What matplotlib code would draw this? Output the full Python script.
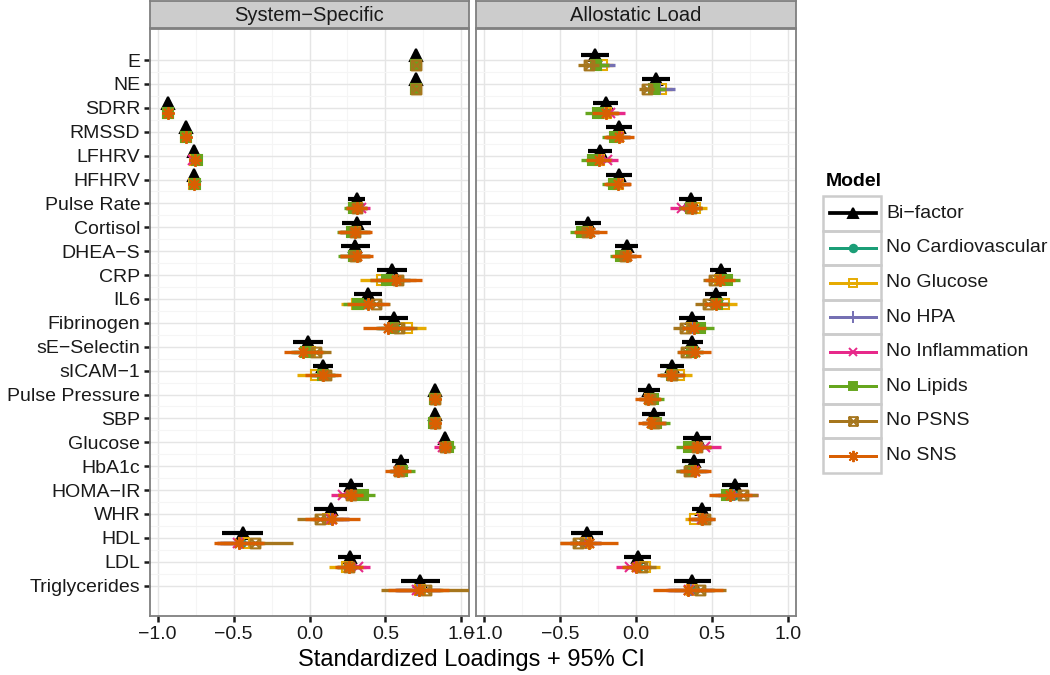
import numpy as np
import matplotlib
matplotlib.use("Agg")
import matplotlib.pyplot as plt
from matplotlib.path import Path
from matplotlib.patches import Rectangle

plt.rcParams['font.family'] = ['Liberation Sans', 'DejaVu Sans']

nan = np.nan
M = '\u2212'

variables = ['E', 'NE', 'SDRR', 'RMSSD', 'LFHRV', 'HFHRV', 'Pulse Rate', 'Cortisol',
             'DHEA' + M + 'S', 'CRP', 'IL6', 'Fibrinogen', 'sE' + M + 'Selectin',
             'sICAM' + M + '1', 'Pulse Pressure', 'SBP', 'Glucose', 'HbA1c',
             'HOMA' + M + 'IR', 'WHR', 'HDL', 'LDL', 'Triglycerides']
models = ['Bi' + M + 'factor', 'No Cardiovascular', 'No Glucose', 'No HPA',
          'No Inflammation', 'No Lipids', 'No PSNS', 'No SNS']
facets = ['System' + M + 'Specific', 'Allostatic Load']
x_ticks = [-1.0, -0.5, 0.0, 0.5, 1.0]
x_tick_labels = [M + '1.0', M + '0.5', '0.0', '0.5', '1.0']

# ---- System-Specific loadings (estimate, CI half-width) ----
ss_bifactor = [0.70, 0.70, -0.93, -0.81, -0.76, -0.76, 0.31, 0.31, 0.30, 0.545, 0.385, 0.555, -0.01, 0.09, 0.826, 0.826, 0.895, 0.60, 0.275, 0.14, -0.44, 0.265, 0.73]
ss_bifactor_hw = [0.015, 0.015, 0.015, 0.015, 0.015, 0.015, 0.055, 0.095, 0.095, 0.10, 0.093, 0.095, 0.10, 0.065, 0.015, 0.015, 0.02, 0.055, 0.08, 0.11, 0.135, 0.075, 0.13]
ss_cardio = [0.70, 0.70, -0.93, -0.81, -0.755, -0.76, nan, 0.30, 0.30, 0.55, 0.38, 0.56, -0.01, 0.09, nan, nan, 0.89, 0.59, 0.27, 0.14, -0.45, 0.26, 0.72]
ss_cardio_hw = [0.02, 0.02, 0.015, 0.015, 0.02, 0.02, nan, 0.10, 0.10, 0.11, 0.10, 0.11, 0.10, 0.08, nan, nan, 0.03, 0.06, 0.08, 0.12, 0.14, 0.08, 0.15]
ss_glucose = [0.70, 0.70, -0.93, -0.81, -0.755, -0.76, 0.31, 0.30, 0.30, 0.48, 0.31, 0.64, 0.0, 0.04, 0.826, 0.826, nan, nan, nan, 0.12, -0.43, 0.25, 0.73]
ss_glucose_hw = [0.02, 0.02, 0.015, 0.015, 0.02, 0.02, 0.07, 0.10, 0.10, 0.15, 0.10, 0.125, 0.10, 0.12, 0.02, 0.02, nan, nan, nan, 0.12, 0.14, 0.12, 0.15]
ss_hpa = [0.70, 0.70, -0.93, -0.81, -0.755, -0.76, 0.31, nan, nan, 0.55, 0.39, 0.55, -0.02, 0.09, 0.826, 0.826, 0.89, 0.59, 0.27, 0.14, -0.45, 0.26, 0.71]
ss_hpa_hw = [0.02, 0.02, 0.015, 0.015, 0.02, 0.02, 0.07, nan, nan, 0.11, 0.10, 0.11, 0.10, 0.08, 0.02, 0.02, 0.03, 0.06, 0.08, 0.12, 0.14, 0.08, 0.15]
ss_inflam = [0.70, 0.70, -0.93, -0.81, -0.77, -0.76, 0.34, 0.30, 0.30, nan, nan, nan, nan, nan, 0.826, 0.826, 0.88, 0.59, 0.22, 0.14, -0.47, 0.32, 0.71]
ss_inflam_hw = [0.02, 0.02, 0.015, 0.015, 0.025, 0.02, 0.06, 0.10, 0.10, nan, nan, nan, nan, nan, 0.02, 0.02, 0.06, 0.06, 0.08, 0.12, 0.14, 0.08, 0.15]
ss_lipids = [0.70, 0.70, -0.93, -0.81, -0.74, -0.755, 0.29, 0.28, 0.29, 0.51, 0.32, 0.55, -0.02, 0.09, 0.826, 0.82, 0.91, 0.61, 0.35, nan, nan, nan, nan]
ss_lipids_hw = [0.02, 0.02, 0.015, 0.015, 0.025, 0.02, 0.06, 0.10, 0.10, 0.11, 0.10, 0.11, 0.10, 0.08, 0.02, 0.02, 0.05, 0.085, 0.08, nan, nan, nan, nan]
ss_psns = [0.70, 0.70, nan, nan, nan, nan, 0.31, 0.30, 0.30, 0.58, 0.44, 0.59, 0.04, 0.11, 0.826, 0.826, 0.89, 0.59, 0.27, 0.07, -0.36, 0.26, 0.77]
ss_psns_hw = [0.02, 0.02, nan, nan, nan, nan, 0.07, 0.10, 0.10, 0.12, 0.09, 0.12, 0.10, 0.08, 0.02, 0.02, 0.03, 0.06, 0.08, 0.15, 0.25, 0.08, 0.30]
ss_sns = [nan, nan, -0.93, -0.81, -0.755, -0.76, 0.31, 0.30, 0.31, 0.57, 0.385, 0.52, -0.04, 0.09, 0.826, 0.826, 0.895, 0.58, 0.27, 0.15, -0.465, 0.26, 0.72]
ss_sns_hw = [nan, nan, 0.015, 0.015, 0.02, 0.02, 0.07, 0.11, 0.11, 0.17, 0.14, 0.165, 0.13, 0.12, 0.02, 0.02, 0.03, 0.085, 0.08, 0.18, 0.165, 0.09, 0.20]

# ---- Allostatic Load loadings (estimate, CI half-width) ----
al_bifactor = [-0.27, 0.13, -0.20, -0.11, -0.235, -0.11, 0.36, -0.315, -0.06, 0.555, 0.525, 0.37, 0.37, 0.235, 0.085, 0.115, 0.40, 0.38, 0.65, 0.43, -0.32, 0.01, 0.37]
al_bifactor_hw = [0.09, 0.09, 0.085, 0.085, 0.08, 0.085, 0.075, 0.085, 0.075, 0.07, 0.075, 0.085, 0.07, 0.08, 0.07, 0.075, 0.09, 0.075, 0.085, 0.06, 0.105, 0.09, 0.12]
al_cardio = [-0.26, 0.12, -0.20, -0.12, -0.24, -0.12, nan, -0.32, -0.07, 0.55, 0.53, 0.375, 0.37, 0.235, nan, nan, 0.40, 0.37, 0.64, 0.43, -0.33, 0.01, 0.36]
al_cardio_hw = [0.08, 0.08, 0.085, 0.08, 0.08, 0.08, nan, 0.08, 0.07, 0.08, 0.08, 0.08, 0.07, 0.08, nan, nan, 0.09, 0.09, 0.10, 0.07, 0.10, 0.09, 0.15]
al_glucose = [-0.22, 0.165, -0.20, -0.12, -0.24, -0.12, 0.39, -0.32, -0.07, 0.55, 0.58, 0.37, 0.37, 0.28, 0.09, 0.12, nan, nan, nan, 0.39, -0.33, 0.06, 0.37]
al_glucose_hw = [0.07, 0.07, 0.085, 0.08, 0.08, 0.08, 0.075, 0.08, 0.07, 0.08, 0.085, 0.08, 0.07, 0.085, 0.07, 0.08, nan, nan, nan, 0.07, 0.10, 0.10, 0.15]
al_hpa = [-0.24, 0.16, -0.20, -0.12, -0.24, -0.12, 0.36, nan, nan, 0.55, 0.53, 0.375, 0.37, 0.235, 0.09, 0.12, 0.40, 0.38, 0.64, 0.43, -0.33, 0.01, 0.36]
al_hpa_hw = [0.10, 0.095, 0.085, 0.08, 0.08, 0.08, 0.075, nan, nan, 0.08, 0.08, 0.08, 0.07, 0.08, 0.07, 0.08, 0.09, 0.09, 0.10, 0.07, 0.10, 0.09, 0.15]
al_inflam = [-0.26, 0.12, -0.17, -0.12, -0.19, -0.12, 0.30, -0.32, -0.07, nan, nan, nan, nan, nan, 0.09, 0.12, 0.45, 0.38, 0.66, 0.43, -0.33, -0.04, 0.35]
al_inflam_hw = [0.08, 0.08, 0.10, 0.08, 0.07, 0.08, 0.08, 0.08, 0.07, nan, nan, nan, nan, nan, 0.07, 0.08, 0.11, 0.09, 0.14, 0.07, 0.10, 0.09, 0.15]
al_lipids = [-0.26, 0.12, -0.25, -0.14, -0.28, -0.145, 0.36, -0.355, -0.10, 0.60, 0.53, 0.42, 0.37, 0.235, 0.11, 0.13, 0.35, 0.36, 0.60, nan, nan, nan, nan]
al_lipids_hw = [0.08, 0.08, 0.085, 0.08, 0.08, 0.075, 0.075, 0.08, 0.07, 0.08, 0.08, 0.09, 0.07, 0.08, 0.075, 0.09, 0.09, 0.10, 0.10, nan, nan, nan, nan]
al_psns = [-0.31, 0.07, nan, nan, nan, nan, 0.36, -0.32, -0.07, 0.51, 0.47, 0.32, 0.33, 0.235, 0.09, 0.12, 0.40, 0.35, 0.70, 0.45, -0.38, 0.04, 0.42]
al_psns_hw = [0.07, 0.05, nan, nan, nan, nan, 0.075, 0.08, 0.07, 0.07, 0.08, 0.08, 0.06, 0.08, 0.07, 0.08, 0.09, 0.09, 0.10, 0.07, 0.12, 0.09, 0.17]
al_sns = [nan, nan, -0.20, -0.11, -0.245, -0.12, 0.365, -0.30, -0.06, 0.55, 0.525, 0.38, 0.385, 0.23, 0.08, 0.10, 0.40, 0.39, 0.62, 0.43, -0.31, 0.0, 0.34]
al_sns_hw = [nan, nan, 0.09, 0.10, 0.08, 0.09, 0.07, 0.11, 0.095, 0.10, 0.08, 0.08, 0.11, 0.09, 0.085, 0.09, 0.09, 0.10, 0.14, 0.09, 0.19, 0.09, 0.23]

ss_est = [ss_bifactor, ss_cardio, ss_glucose, ss_hpa, ss_inflam, ss_lipids, ss_psns, ss_sns]
ss_hw = [ss_bifactor_hw, ss_cardio_hw, ss_glucose_hw, ss_hpa_hw, ss_inflam_hw, ss_lipids_hw, ss_psns_hw, ss_sns_hw]
al_est = [al_bifactor, al_cardio, al_glucose, al_hpa, al_inflam, al_lipids, al_psns, al_sns]
al_hw = [al_bifactor_hw, al_cardio_hw, al_glucose_hw, al_hpa_hw, al_inflam_hw, al_lipids_hw, al_psns_hw, al_sns_hw]

colors = ['black', '#1B9E77', '#E6AB02', '#7570B3', '#E7298A', '#66A61E', '#A6761D', '#D95F02']

# square with a cross inside (ggplot shape 7)
sq_cross = Path([(-1, -1), (1, -1), (1, 1), (-1, 1), (-1, -1), (-1, -1), (1, 1), (-1, 1), (1, -1)],
                [Path.MOVETO, Path.LINETO, Path.LINETO, Path.LINETO, Path.CLOSEPOLY,
                 Path.MOVETO, Path.LINETO, Path.MOVETO, Path.LINETO])
markers = ['^', 'o', 's', '+', 'x', 's', sq_cross, (8, 2, 0)]
msizes = [8.5, 6, 6.5, 9, 7, 6.5, 7, 9]
filled = [True, True, False, True, True, True, False, True]
lws = [3.0, 2.4, 2.4, 2.4, 2.4, 2.4, 2.4, 2.4]
offsets = [-0.2, 0.2, 0.2, 0.2, 0.2, 0.2, 0.2, 0.2]

fig = plt.figure(figsize=(10.5, 6.75), dpi=100)
W, H = 1050.0, 675.0
panels = [(150, 469), (476, 796)]
top, bottom = 29, 616
rows = np.arange(len(variables))

for p, (est_list, hw_list) in enumerate([(ss_est, ss_hw), (al_est, al_hw)]):
    x0, x1 = panels[p]
    ax = fig.add_axes([x0 / W, 1 - bottom / H, (x1 - x0) / W, (bottom - top) / H])
    ax.set_xlim(-1.05, 1.05)
    ax.set_ylim(len(variables) - 1 + 1.27, -1.3)
    ax.set_xticks(x_ticks)
    ax.set_xticklabels(x_tick_labels)
    ax.set_xticks([-0.75, -0.25, 0.25, 0.75], minor=True)
    ax.set_yticks(rows)
    ax.set_yticks(rows[:-1] + 0.5, minor=True)
    ax.grid(True, which='major', color='#E5E5E5', lw=1.0)
    ax.grid(True, which='minor', color='#F5F5F5', lw=0.8)
    ax.set_axisbelow(True)
    ax.tick_params(which='minor', length=0)
    ax.tick_params(which='major', length=4, width=1.8, color='#1a1a1a',
                   labelsize=14, labelcolor='#1a1a1a', pad=3)
    if p == 0:
        ax.set_yticklabels(variables)
    else:
        ax.set_yticklabels([])
        ax.tick_params(axis='y', which='both', length=0)
    for s in ax.spines.values():
        s.set_color('#7F7F7F')
        s.set_linewidth(1.3)

    for m in range(len(models)):
        est = np.array(est_list[m], dtype=float)
        hw = np.array(hw_list[m], dtype=float)
        y = rows + offsets[m]
        ax.errorbar(est, y, xerr=hw, fmt='none', ecolor=colors[m], elinewidth=lws[m],
                    capsize=0, zorder=3 + m * 0.1)
        ax.plot(est, y, ls='none', marker=markers[m], ms=msizes[m],
                mfc=colors[m] if filled[m] else 'none', mec=colors[m], mew=1.5,
                zorder=3.05 + m * 0.1)

    # facet strip
    sax = fig.add_axes([x0 / W, 1 - 28 / H, (x1 - x0) / W, 27 / H])
    sax.set_facecolor('#CCCCCC')
    sax.set_xticks([])
    sax.set_yticks([])
    for s in sax.spines.values():
        s.set_color('#7F7F7F')
        s.set_linewidth(1.3)
    sax.text(0.5, 0.48, facets[p], ha='center', va='center', fontsize=14.5, color='#1a1a1a')

fig.text(471 / W, 1 - 660 / H, 'Standardized Loadings + 95% CI', ha='center', va='center',
         fontsize=17, color='black')

# legend drawn by hand in pixel space
lax = fig.add_axes([0, 0, 1, 1])
lax.set_xlim(0, W)
lax.set_ylim(H, 0)
lax.axis('off')
lax.text(826, 181, 'Model', fontsize=14, fontweight='bold', ha='left', va='center')
key_top, key_h = 196, 34.6
for m, name in enumerate(models):
    yk = key_top + m * key_h
    lax.add_patch(Rectangle((823, yk), 58, key_h, fill=False, ec='#CCCCCC', lw=1.8))
    yc = yk + key_h / 2
    lax.plot([830, 876], [yc, yc], color=colors[m], lw=lws[m] * 0.9)
    lax.plot([853], [yc], marker=markers[m], ms=msizes[m] * 0.9, ls='none',
             mfc=colors[m] if filled[m] else 'none', mec=colors[m], mew=1.4)
    lax.text(886, yc, name, fontsize=14, ha='left', va='center', color='#1a1a1a')

fig.savefig('out.png', dpi=100, facecolor='white')
